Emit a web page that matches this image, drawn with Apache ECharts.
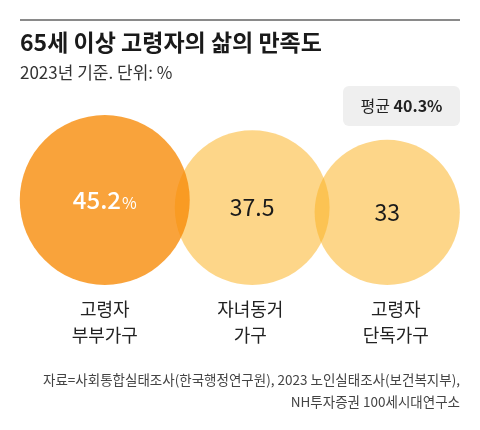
<!DOCTYPE html>
<html>
<head>
<meta charset="utf-8">
<script src="https://cdn.jsdelivr.net/npm/echarts@6/dist/echarts.min.js"></script>
<style>
html, body { margin: 0; padding: 0; background: #fff; }
#chart_satisfy { width: 480px; height: 430px; }
</style>
</head>
<body>
<div id="chart_satisfy"></div>
<script>
// data
var categories = ['고령자\n부부가구', '자녀동거\n가구', '고령자\n단독가구'];
var satisfyValues = [45.2, 37.5, 33];
var averageValue = 40.3;
var sourceLines = [
  '자료=사회통합실태조사(한국행정연구원), 2023 노인실태조사(보건복지부),',
  'NH투자증권 100세시대연구소'
];

var fontsty = 'Noto Sans CJK KR';
var maxRadius = 85;   // px radius of the largest bubble
var overlapPx = 15;   // how much neighbouring bubbles overlap
var myChart = echarts.init(document.getElementById('chart_satisfy'));

// bubble area is proportional to the value
function radiusOf(v) {
  var maxV = Math.max.apply(null, satisfyValues);
  return maxRadius * Math.sqrt(v / maxV);
}

function renderBubble(params, api) {
  var idx = params.dataIndex;
  var base = api.coord([0, 0]);
  var cx = base[0];
  for (var i = 1; i <= idx; i++) {
    cx += radiusOf(satisfyValues[i - 1]) + radiusOf(satisfyValues[i]) - overlapPx;
  }
  var r = radiusOf(api.value(1));
  var cy = base[1] - r;
  var first = idx == 0;
  var label;
  if (first) {
    label = {
      text: '{n|' + api.value(1) + '}{p|%}',
      rich: {
        n: { fontSize: 24, fontWeight: 500, fill: '#fff', fontFamily: fontsty },
        p: { fontSize: 16, fill: '#fff', fontFamily: fontsty, padding: [6, 0, 0, 1] }
      }
    };
  } else {
    label = {
      text: String(api.value(1)),
      fontSize: 23, fill: '#1a1a1a', fontFamily: fontsty
    };
  }
  label.align = 'center';
  label.verticalAlign = 'middle';
  return {
    type: 'group',
    children: [{
      type: 'circle',
      shape: { cx: cx, cy: cy, r: r },
      z2: first ? 10 : 1,
      style: { fill: first ? 'rgba(248,140,10,0.8)' : 'rgba(252,180,40,0.55)' }
    }, {
      type: 'text',
      x: cx, y: cy,
      z2: 20,
      style: label
    }]
  };
}

var seriesData = satisfyValues.map(function (v, i) { return [i, v]; });

var option = {
  animation: false,
  title: {
    text: '65세 이상 고령자의 삶의 만족도',
    subtext: '2023년 기준. 단위: %',
    left: 20,
    top: 28,
    padding: 0,
    itemGap: 6,
    textStyle: { fontSize: 23, fontWeight: 'bold', color: '#1a1a1a', lineHeight: 29, fontFamily: fontsty },
    subtextStyle: { fontSize: 17, color: '#333', lineHeight: 20, fontFamily: fontsty }
  },
  grid: { left: 32, right: 11.5, top: 100, bottom: 145, outerBoundsMode: 'none' },
  xAxis: {
    type: 'category',
    data: categories,
    axisLine: { show: false },
    axisTick: { show: false },
    axisLabel: { fontSize: 18, lineHeight: 26, color: '#222', margin: 11, fontFamily: fontsty }
  },
  yAxis: { type: 'value', min: 0, max: 100, show: false },
  series: [{
    type: 'custom',
    renderItem: renderBubble,
    encode: { x: 0, y: 1 },
    data: seriesData
  }],
  graphic: [
    {
      type: 'line',
      shape: { x1: 20, y1: 20, x2: 460, y2: 20 },
      style: { stroke: '#8a8a8a', lineWidth: 2 }
    },
    {
      type: 'rect',
      shape: { x: 343, y: 86, width: 117, height: 40, r: 6 },
      style: { fill: '#efefef' }
    },
    {
      type: 'text',
      x: 401.5, y: 106,
      style: {
        text: '{a|평균 }{b|' + averageValue + '%}',
        align: 'center',
        verticalAlign: 'middle',
        rich: {
          a: { fontSize: 16, fill: '#222', fontFamily: fontsty },
          b: { fontSize: 16, fontWeight: 'bold', fill: '#222', fontFamily: fontsty }
        }
      }
    },
    {
      type: 'text',
      x: 460, y: 369,
      style: {
        text: sourceLines.join('\n'),
        align: 'right',
        fontSize: 13.5,
        lineHeight: 22,
        fill: '#444',
        fontFamily: fontsty
      }
    }
  ]
};
myChart.setOption(option);
</script>
</body>
</html>
